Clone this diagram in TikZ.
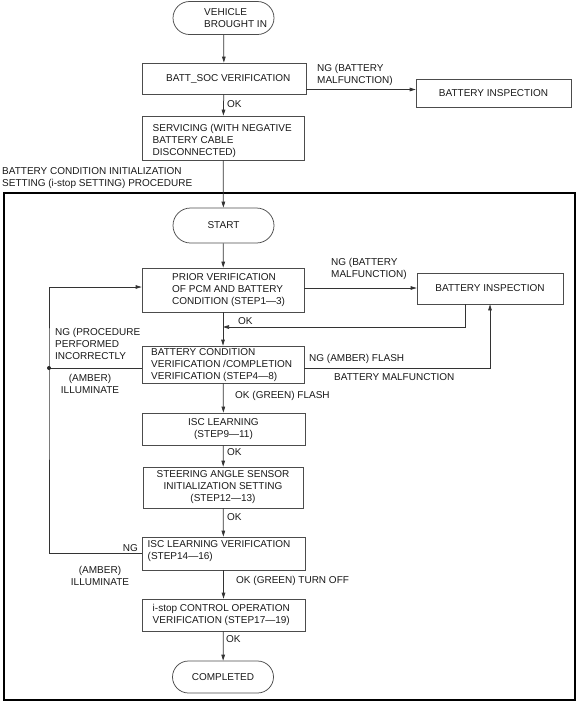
\documentclass[tikz,border=0pt]{standalone}
\usepackage{fontspec}
\setmainfont{Liberation Sans}
\usetikzlibrary{shapes.misc,arrows.meta,calc}
\begin{document}
\begin{tikzpicture}[x=1pt,y=-1pt,
  every node/.style={font=\fontsize{10}{12}\selectfont, text=black!90},
  boxn/.style={draw=black!70, line width=0.75pt, rectangle, inner sep=0pt, align=center},
  termn/.style={draw=black!70, line width=0.75pt, rounded rectangle, inner sep=0pt, align=center, minimum width=101pt, minimum height=33pt},
  txt/.style={inner sep=0pt, align=left, anchor=west},
  ctxt/.style={inner sep=0pt, align=center},
  conn/.style={line width=0.75pt, draw=black!80},
  arr/.style={conn, -{Triangle[length=6pt,width=3.6pt]}},
]
\useasboundingbox (0,0) rectangle (576,702);
% frame
\draw[line width=1.5pt] (4,193) rectangle (575,700);

% upper part
\node[termn] (veh) at (223.5,18) {};
\node[txt] (veht) at (204,18) {VEHICLE\\BROUGHT IN};
\node[boxn, minimum width=164pt, minimum height=31pt] (batt) at (224,78.5) {};
\node[txt] (battt) at (166,79) {BATT\_SOC VERIFICATION};
\node[boxn, minimum width=155pt, minimum height=28pt] (insp1) at (493.5,93) {BATTERY INSPECTION};
\node[boxn, minimum width=162pt, minimum height=44pt] (serv) at (223,138) {};
\node[txt] (servt) at (152.5,140.5) {SERVICING (WITH NEGATIVE\\BATTERY CABLE\\DISCONNECTED)};
\node[txt] (proc) at (2,178) {BATTERY CONDITION INITIALIZATION\\SETTING (i-stop SETTING) PROCEDURE};

% procedure
\node[termn, minimum height=35pt] (start) at (223.5,225.5) {START};
\node[boxn, minimum width=162pt, minimum height=44pt] (prior) at (223,290) {};
\node[txt] (priort) at (172,290) {PRIOR VERIFICATION\\OF PCM AND BATTERY\\CONDITION (STEP1---3)};
\node[boxn, minimum width=146pt, minimum height=31pt] (insp2) at (490,288.5) {BATTERY INSPECTION};
\node[boxn, minimum width=162pt, minimum height=37pt] (bcv) at (223,364.5) {};
\node[txt] (bcvt) at (151,365) {BATTERY CONDITION\\VERIFICATION /COMPLETION\\VERIFICATION (STEP4---8)};
\node[boxn, minimum width=163pt, minimum height=32pt] (isc) at (223.5,429) {ISC LEARNING\\(STEP9---11)};
\node[boxn, minimum width=160pt, minimum height=41pt] (steer) at (223,487.5) {STEERING ANGLE SENSOR\\INITIALIZATION SETTING\\(STEP12---13)};
\node[boxn, minimum width=163pt, minimum height=33pt] (iscv) at (223.5,553.5) {};
\node[txt] (iscvt) at (147.5,551) {ISC LEARNING VERIFICATION\\(STEP14---16)};
\node[boxn, minimum width=163pt, minimum height=32pt] (istop) at (223.5,615) {};
\node[txt] (istopt) at (152.5,615) {i-stop CONTROL OPERATION\\VERIFICATION (STEP17---19)};
\node[termn, minimum height=32pt] (done) at (223,677) {COMPLETED};

% connectors upper
\draw[arr] (veh) -- (batt);
\coordinate (b1) at ([yshift=-11pt]batt.east);
\draw[arr] (b1) -- (b1 -| insp1.west);
\draw[arr] (batt) -- (serv);
\draw[arr] (serv) -- (start);

% connectors procedure
\draw[arr] (start) -- (prior);
\coordinate (p1) at ([yshift=2pt]prior.east);
\draw[arr] (p1) -- (p1 -| insp2.west);
\coordinate (r1) at ([xshift=-25pt]insp2.south);
\coordinate (r2) at ($(prior.south)!0.44!(bcv.north)$);
\draw[arr] (r1) |- (r2);
\draw[arr] (prior) -- (bcv);

\coordinate (dot) at (49,368);
\coordinate (p0) at ([yshift=3pt]prior.west);
\draw[conn] (bcv.west |- dot) -- (dot);
\draw[arr] (iscv.west) -| (dot) |- (p0);
\fill[black!85] (dot) circle (2pt);
\draw[arr] (bcv.east |- dot) -| (insp2.south);

\draw[arr] (bcv) -- (isc);
\draw[arr] (isc) -- (steer);
\draw[arr] (steer) -- (iscv);
\draw[arr] (iscv) -- (istop);
\draw[arr] (istop) -- (done);

% labels
\node[txt] (ok1) at (227,104) {OK};
\node[txt] (ng1) at (317,75) {NG (BATTERY\\MALFUNCTION)};
\node[txt] (ng2) at (331,269) {NG (BATTERY\\MALFUNCTION)};
\node[txt] (ok2) at (238,321) {OK};
\node[txt] (ngp) at (55,344) {NG (PROCEDURE\\PERFORMED\\INCORRECTLY};
\node[ctxt] (amb1) at (90,384) {(AMBER)\\ILLUMINATE};
\node[txt] (nga) at (309,359) {NG (AMBER) FLASH};
\node[txt] (bm) at (334,377) {BATTERY MALFUNCTION};
\node[txt] (okg) at (235,396) {OK (GREEN) FLASH};
\node[txt] (ok3) at (227,452) {OK};
\node[txt] (ok4) at (227,517) {OK};
\node[ctxt, anchor=east] (ng3) at (138,548) {NG};
\node[ctxt] (amb2) at (100,576) {(AMBER)\\ILLUMINATE};
\node[txt] (okt) at (236,581) {OK (GREEN) TURN OFF};
\node[txt] (ok5) at (226,639) {OK};
\end{tikzpicture}
\end{document}
